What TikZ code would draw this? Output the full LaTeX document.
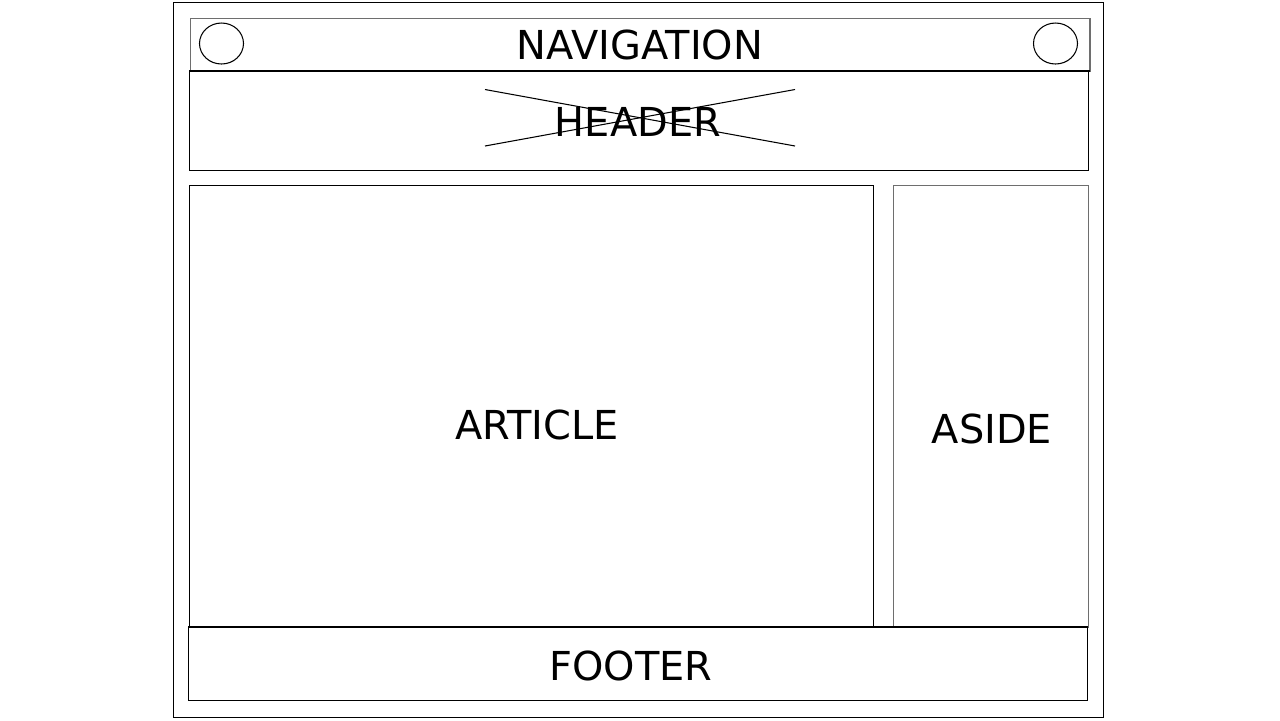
\documentclass[tikz,border=0pt]{standalone}
\usepackage{fontspec}
\setmainfont{DejaVu Sans}
\usepackage{tikz}
\usetikzlibrary{positioning}
\definecolor{wfgray}{RGB}{110,110,110}
\tikzset{
  frame/.style={draw=black, line width=0.3pt},
  pane/.style={draw=wfgray, line width=0.3pt},
  label/.style={font=\fontsize{11.35}{13}\selectfont, inner sep=0pt}
}

\begin{document}
\begin{tikzpicture}[x=0.1mm, y=-0.1mm]
\useasboundingbox (0,0) rectangle (1280,720);
% Page frame
\draw[frame] (173.5,2.5) rectangle (1103.5,717.5);

% Navigation bar
\draw[pane] (190.5,18.5) rectangle (1090,71);
\draw[black, line width=0.5pt] (190.5,71) -- (1090,71);
\foreach \cx in {221.5, 1055.5} {
    \draw[frame] (\cx,43.5) ellipse (22 and 20.5);
}
\node[label] (nav) at (640,45) {NAVIGATION};

% Header with image placeholder
\draw[frame] (189.5,71) rectangle (1088.5,170.5);
\draw[frame] (485,89.5) -- (795,146);
\draw[frame] (485,146) -- (795,89.5);
\node[label] (header) at (638,122) {HEADER};

% Article and aside
\draw[frame] (189.5,185.5) rectangle (873.5,626.5);
\node[label] (article) at (537,425) {ARTICLE};
\draw[pane] (893.5,185.5) rectangle (1088.5,627);
\node[label] (aside) at (992,429) {ASIDE};

% Footer
\draw[frame] (188.5,627) rectangle (1087.5,700.5);
\node[label] (footer) at (631,666) {FOOTER};
\end{tikzpicture}
\end{document}
